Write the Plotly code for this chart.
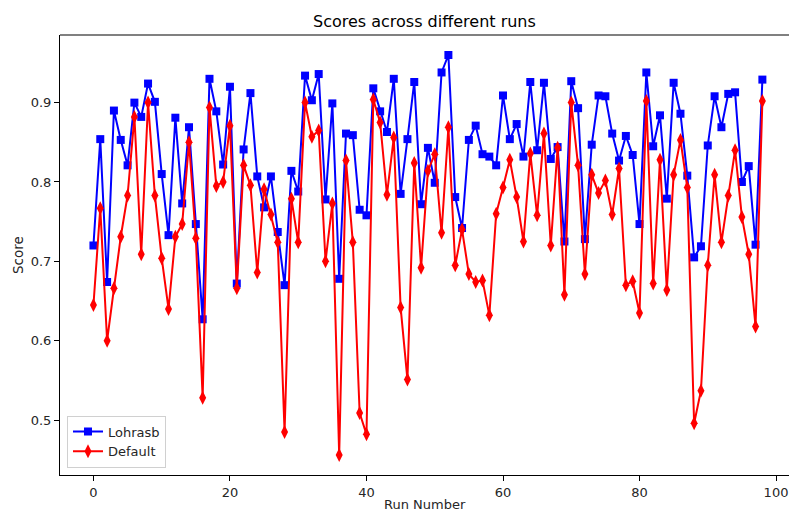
import plotly.graph_objects as go

runs = list(range(99))
lohrasb = [0.720, 0.854, 0.674, 0.890, 0.853, 0.821, 0.900, 0.882, 0.924, 0.901,
           0.810, 0.733, 0.881, 0.773, 0.869, 0.747, 0.627, 0.930, 0.889, 0.822,
           0.920, 0.672, 0.841, 0.912, 0.807, 0.768, 0.807, 0.737, 0.670, 0.814,
           0.788, 0.934, 0.903, 0.936, 0.778, 0.899, 0.678, 0.861, 0.859, 0.765,
           0.758, 0.918, 0.889, 0.863, 0.930, 0.785, 0.854, 0.926, 0.772, 0.843,
           0.799, 0.938, 0.960, 0.781, 0.742, 0.853, 0.871, 0.835, 0.832, 0.821,
           0.909, 0.854, 0.873, 0.832, 0.926, 0.840, 0.925, 0.829, 0.844, 0.725,
           0.927, 0.893, 0.728, 0.847, 0.909, 0.908, 0.861, 0.827, 0.858, 0.834,
           0.747, 0.938, 0.845, 0.884, 0.779, 0.925, 0.886, 0.808, 0.705, 0.719,
           0.846, 0.908, 0.869, 0.911, 0.913, 0.800, 0.820, 0.721, 0.929]
default = [0.645, 0.767, 0.600, 0.666, 0.731, 0.783, 0.882, 0.709, 0.900, 0.783,
           0.704, 0.640, 0.731, 0.747, 0.850, 0.729, 0.528, 0.894, 0.795, 0.800,
           0.871, 0.666, 0.821, 0.796, 0.686, 0.791, 0.759, 0.724, 0.485, 0.779,
           0.724, 0.900, 0.857, 0.865, 0.700, 0.773, 0.456, 0.827, 0.724, 0.509,
           0.482, 0.904, 0.875, 0.784, 0.856, 0.642, 0.551, 0.824, 0.692, 0.814,
           0.835, 0.736, 0.869, 0.695, 0.740, 0.684, 0.674, 0.676, 0.632, 0.760,
           0.793, 0.828, 0.781, 0.725, 0.836, 0.758, 0.861, 0.720, 0.843, 0.658,
           0.900, 0.821, 0.684, 0.809, 0.786, 0.802, 0.759, 0.817, 0.670, 0.675,
           0.635, 0.902, 0.672, 0.828, 0.664, 0.809, 0.853, 0.793, 0.496, 0.537,
           0.695, 0.809, 0.724, 0.783, 0.840, 0.756, 0.709, 0.618, 0.902]

x_ticks = [0, 20, 40, 60, 80, 100]
y_ticks = [0.5, 0.6, 0.7, 0.8, 0.9]

FONT = "DejaVu Sans"

fig = go.Figure()
fig.add_trace(go.Scatter(x=runs, y=lohrasb, mode="lines+markers", name="Lohrasb",
                         line=dict(color="blue", width=2),
                         marker=dict(symbol="square", size=8, color="blue")))
fig.add_trace(go.Scatter(x=runs, y=default, mode="lines+markers", name="Default",
                         line=dict(color="red", width=2),
                         marker=dict(symbol="diamond-tall", size=10, color="red")))

fig.update_layout(
    width=789, height=513,
    margin=dict(l=60, r=0, t=35, b=38),
    paper_bgcolor="white", plot_bgcolor="white",
    font=dict(family=FONT, size=13, color="#262626"),
    showlegend=True,
    legend=dict(x=0.0096, y=0.017, xanchor="left", yanchor="bottom",
                bgcolor="rgba(255,255,255,0.8)", bordercolor="#d0d0d0", borderwidth=1,
                font=dict(family=FONT, size=13, color="#262626"),
                tracegroupgap=0),
    xaxis=dict(range=[-4.9, 101.9], tickvals=x_ticks, ticktext=[str(v) for v in x_ticks],
               showgrid=False, zeroline=False, showline=True, linecolor="black", linewidth=1,
               ticks="outside", ticklen=5, tickcolor="black", tickwidth=1),
    yaxis=dict(range=[0.4308, 0.9852], tickvals=y_ticks, ticktext=["0.5", "0.6", "0.7", "0.8", "0.9"],
               showgrid=False, zeroline=False, showline=True, linecolor="black", linewidth=1,
               ticks="outside", ticklen=5, tickcolor="black", tickwidth=1),
    annotations=[
        dict(text="Scores across different runs", xref="paper", yref="paper", x=0.5, y=1.0307,
             xanchor="center", yanchor="middle", showarrow=False,
             font=dict(family=FONT, size=16, color="black")),
        dict(text="Run Number", xref="paper", yref="paper", x=0.5, y=-0.0660,
             xanchor="center", yanchor="middle", showarrow=False,
             font=dict(family=FONT, size=13, color="#262626")),
        dict(text="Score", xref="paper", yref="paper", x=-0.0576, y=0.5, textangle=-90,
             xanchor="center", yanchor="middle", showarrow=False,
             font=dict(family=FONT, size=13.5, color="#262626")),
    ],
    shapes=[dict(type="line", xref="paper", yref="paper", x0=0, x1=1, y0=1, y1=1,
                 line=dict(color="#808080", width=2))],
)

fig.write_html("out.html")
